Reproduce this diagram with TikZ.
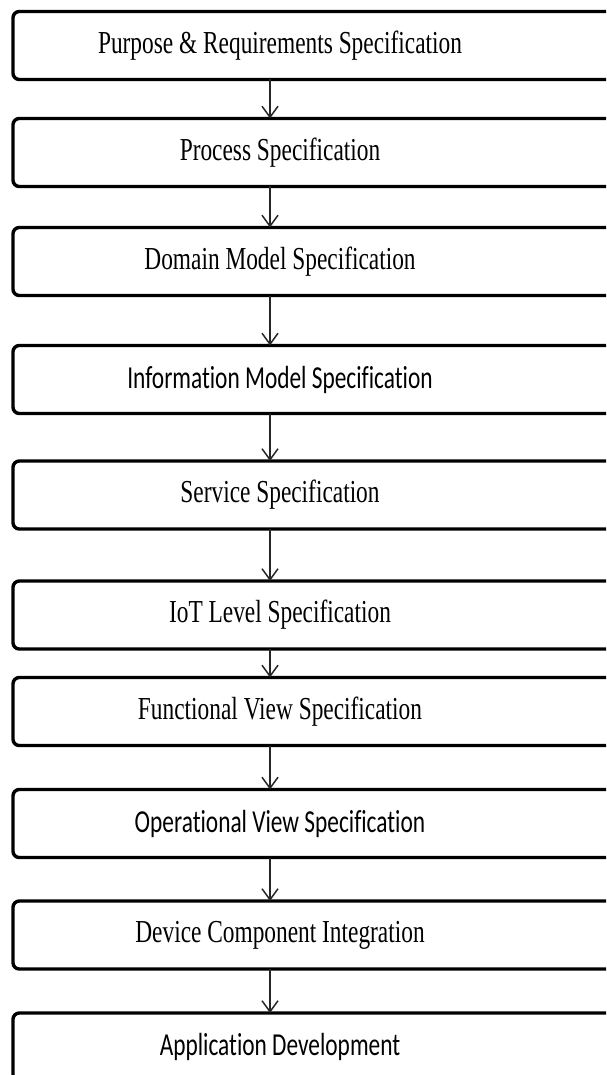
\documentclass[tikz,border=0pt]{standalone}
\usepackage{fontspec}
\setmainfont{Liberation Serif}[FakeStretch=0.73]
\newfontfamily\calib{Carlito}[FakeStretch=0.73, Ligatures=NoCommon]
\usetikzlibrary{arrows.meta, positioning}

\begin{document}
\begin{tikzpicture}[
    x=1pt, y=1pt,
    font=\fontsize{32}{36}\selectfont,
    stage/.style={rectangle, draw=black, fill=white, line width=3.4pt, rounded corners=2.2mm, outer sep=0pt,
        minimum width=606pt, minimum height=68pt, execute at begin node={\hspace*{-72pt}}},
    arrow/.style={-{Straight Barb[length=11pt, width=16pt]}, line width=1.5pt, draw=black!85}
]
\clip (0,0) rectangle (606,-1075);

\coordinate (axis) at (270,0);

\node[stage] (purpose) at (316,-45.5) {Purpose \& Requirements Specification};
\node[stage, below=39pt of purpose] (process) {Process Specification};
\node[stage, below=41pt of process] (domain) {Domain Model Specification};
\node[stage, below=50pt of domain] (info) {\calib Information Model Specification};
\node[stage, below=47.5pt of info] (service) {Service Specification};
\node[stage, below=52pt of service] (level) {IoT Level Specification};
\node[stage, below=28.5pt of level] (functional) {Functional View Specification};
\node[stage, below=44pt of functional] (operational) {\calib Operational View Specification};
\node[stage, below=43.5pt of operational] (device) {Device Component Integration};
\node[stage, below=44pt of device] (app) {\calib Application Development};

\draw[arrow] (purpose.south -| axis) -- (process.north -| axis);
\draw[arrow] (process.south -| axis) -- (domain.north -| axis);
\draw[arrow] (domain.south -| axis) -- (info.north -| axis);
\draw[arrow] (info.south -| axis) -- (service.north -| axis);
\draw[arrow] (service.south -| axis) -- (level.north -| axis);
\draw[arrow] (level.south -| axis) -- (functional.north -| axis);
\draw[arrow] (functional.south -| axis) -- (operational.north -| axis);
\draw[arrow] (operational.south -| axis) -- (device.north -| axis);
\draw[arrow] (device.south -| axis) -- (app.north -| axis);

\end{tikzpicture}
\end{document}
